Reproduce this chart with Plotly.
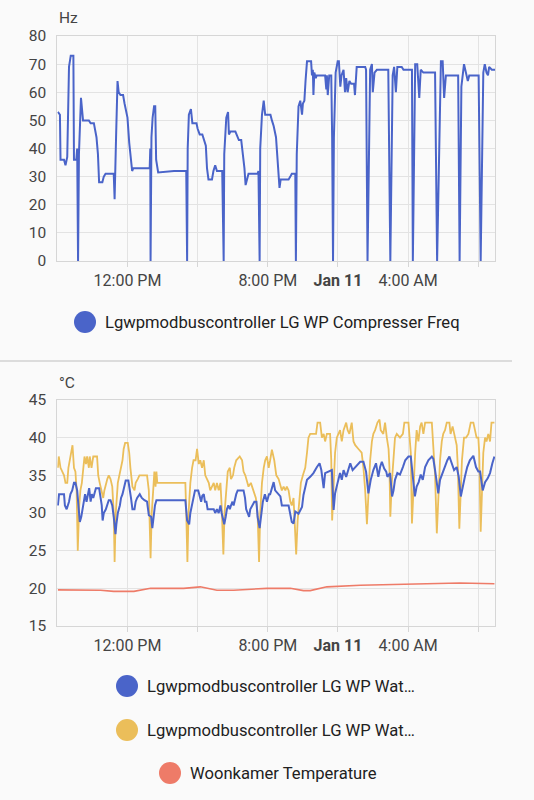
import plotly.graph_objects as go
import pandas as pd

start = pd.Timestamp("2025-01-10 08:00")

# minutes since 08:00 Jan 10 and readings
freq_min = [2, 9, 11, 23, 28, 34, 40, 46, 55, 57, 65, 68, 71, 74, 81, 88, 108, 114, 125, 128,
            134, 139, 143, 154, 159, 165, 193, 196, 199, 201, 206, 210, 216, 225, 230, 234, 240, 246, 254, 256,
            260, 316, 318, 319, 322, 326, 331, 335, 338, 341, 345, 399, 441, 444, 446, 450, 457, 462, 476, 480,
            487, 496, 503, 508, 512, 517, 529, 534, 540, 546, 564, 569, 571, 578, 584, 587, 592, 609, 613, 621,
            629, 633, 640, 644, 648, 654, 685, 688, 692, 694, 700, 706, 711, 729, 734, 740, 748, 754, 760, 764,
            791, 797, 802, 814, 816, 819, 825, 831, 837, 840, 845, 849, 854, 868, 871, 874, 876, 879, 884, 887,
            916, 920, 922, 925, 930, 937, 940, 943, 946, 952, 959, 963, 968, 972, 979, 984, 988, 993, 999, 1005,
            1015, 1018, 1024, 1053, 1056, 1061, 1070, 1076, 1079, 1085, 1093, 1132, 1139, 1147, 1152, 1158, 1163, 1178, 1184, 1213,
            1216, 1224, 1231, 1238, 1243, 1252, 1292, 1299, 1312, 1318, 1323, 1329, 1371, 1376, 1382, 1391, 1398, 1404, 1409, 1441,
            1448, 1457, 1462, 1468, 1473, 1477, 1486, 1497]
freq_hz = [53, 52, 36, 36, 34, 37, 69, 73, 73, 36, 36, 40, 0, 38, 58, 50, 50, 49, 49, 47,
           44, 38, 28, 28, 30, 31, 31, 22, 40, 44, 64, 60, 59, 59, 56, 54, 51, 42, 33, 32,
           33, 33, 40, 0, 44, 51, 55, 55, 36, 33, 31.5, 32, 32, 0, 40, 52, 54, 49, 49, 47,
           45, 45, 43, 41, 33, 29, 29, 32, 34, 32, 32, 0, 38, 51, 53, 45, 46, 46, 45, 43,
           43, 40, 33, 27, 29, 31, 31, 32, 0, 40, 52, 57, 52, 52, 50, 48, 44, 35, 26, 29,
           29, 30, 31, 31, 0, 38, 55, 57, 52, 56, 57, 64, 71, 71, 66, 68, 59, 67, 65, 66,
           66, 61, 66, 59, 66, 66, 44, 0, 44, 67, 71, 71, 62, 66, 68, 60, 65, 60, 64, 63,
           63, 59, 69, 69, 68, 0, 68, 70, 60, 67, 68, 68, 0, 66, 69, 60, 69, 69, 68, 68,
           0, 70, 70, 58, 68, 67, 67, 0, 71, 71, 58, 66, 66, 0, 62, 70, 66, 64, 66, 66,
           0, 67, 70, 67, 66, 69, 68, 68]

flow_min = [2, 5, 11, 17, 23, 28, 34, 38, 43, 49, 52, 57, 62, 66, 70, 75, 79, 84, 89, 93,
            98, 102, 108, 111, 117, 123, 136, 140, 145, 150, 157, 161, 166, 171, 176, 182, 188, 193, 196, 200,
            207, 216, 223, 227, 232, 241, 246, 250, 257, 264, 268, 275, 281, 307, 313, 319, 323, 328, 332, 336,
            339, 342, 347, 438, 441, 445, 449, 455, 461, 466, 473, 478, 484, 489, 495, 501, 506, 512, 518, 523,
            535, 540, 546, 552, 558, 562, 568, 572, 578, 583, 590, 594, 601, 605, 612, 624, 632, 637, 643, 649,
            654, 662, 671, 679, 685, 690, 694, 700, 706, 711, 717, 723, 728, 734, 742, 749, 757, 763, 768, 774,
            780, 785, 791, 797, 802, 808, 813, 817, 822, 829, 833, 840, 848, 854, 859, 865, 885, 890, 899, 905,
            911, 916, 922, 933, 937, 940, 945, 950, 956, 962, 967, 973, 979, 988, 993, 999, 1007, 1013, 1019, 1030,
            1041, 1047, 1053, 1059, 1064, 1070, 1076, 1081, 1087, 1095, 1102, 1106, 1115, 1121, 1127, 1133, 1136, 1139, 1144, 1150,
            1155, 1161, 1172, 1182, 1187, 1201, 1204, 1209, 1213, 1218, 1224, 1229, 1235, 1241, 1246, 1252, 1258, 1281, 1286, 1292,
            1298, 1303, 1309, 1315, 1320, 1326, 1332, 1341, 1345, 1352, 1360, 1366, 1370, 1375, 1380, 1384, 1391, 1398, 1406, 1414,
            1423, 1429, 1434, 1440, 1443, 1448, 1452, 1457, 1463, 1468, 1474, 1480, 1485, 1495]
flow_c = [36, 37.5, 36, 35.5, 35, 34, 34, 36, 37, 38.5, 39, 36, 35.5, 33, 25, 31, 33, 34, 36, 37.5,
          36.5, 37.5, 36, 37.5, 36, 37.5, 37.5, 35, 34, 33, 32, 33, 34, 34.5, 35, 34.5, 33.5, 30, 23.5, 30,
          34, 35.5, 37, 38.5, 39.3, 39.3, 38, 36, 33.5, 33, 34, 34.5, 35, 35, 33, 24, 30, 33, 35.5, 33.5,
          35.5, 34, 34, 34, 30, 23.5, 30, 34, 36, 37, 37, 38.5, 36.5, 37, 36, 37, 35, 34.5, 34, 33,
          34, 33, 34, 33, 34, 31, 24.5, 30, 33, 35.5, 36, 34.5, 35, 36, 37, 37.5, 37, 35.5, 35, 34,
          33.5, 34, 33, 32, 30, 23.5, 30, 34, 36, 37, 37.5, 36, 37, 38.4, 37, 35, 34.5, 33.5, 33, 33.5,
          33, 33.5, 33, 31.5, 31, 32, 27, 24.5, 29, 32, 34, 35, 36, 38, 40, 40.5, 40.5, 42, 42, 40,
          40.5, 39.5, 40.5, 40.5, 37, 29, 34, 38, 40, 40.5, 41, 39.5, 41, 42, 41, 40.5, 42, 39.5, 39, 38.5,
          38, 36, 33, 28.5, 33, 37, 39.5, 40.5, 41, 42, 42.4, 41, 40.5, 42, 40, 38.5, 36, 29.5, 34, 38,
          40, 40.5, 40, 40.5, 42, 42, 40, 38, 28.6, 34, 38, 41, 39.5, 41.5, 42, 40.5, 42, 42, 39, 35,
          27.3, 33, 37, 39.5, 40.5, 41, 42, 42, 40.5, 41.5, 40, 39, 36, 27.9, 33, 37, 40, 40, 40.5, 42,
          42, 41, 40, 40, 38, 27.5, 34, 38, 40, 39.5, 40.5, 39.5, 42, 42]

ret_min = [2, 6, 23, 26, 32, 36, 40, 45, 51, 57, 62, 68, 73, 77, 82, 86, 91, 95, 100, 104,
           109, 114, 118, 123, 127, 132, 143, 148, 152, 155, 159, 166, 171, 176, 182, 188, 193, 199, 202, 207,
           214, 218, 223, 227, 234, 243, 248, 252, 257, 264, 268, 273, 282, 289, 298, 307, 313, 321, 325, 330,
           334, 339, 438, 444, 451, 455, 461, 466, 471, 482, 487, 492, 496, 501, 505, 510, 514, 535, 540, 546,
           552, 558, 562, 567, 571, 576, 580, 585, 590, 594, 599, 603, 608, 612, 617, 637, 642, 646, 651, 656,
           660, 667, 674, 681, 685, 692, 697, 703, 710, 717, 724, 728, 740, 745, 763, 768, 791, 797, 802, 808,
           814, 825, 837, 842, 854, 865, 876, 888, 897, 903, 907, 911, 916, 928, 939, 945, 950, 958, 967, 973,
           979, 988, 996, 1002, 1010, 1019, 1036, 1047, 1056, 1064, 1072, 1081, 1090, 1098, 1104, 1110, 1118, 1125, 1129, 1138,
           1145, 1150, 1155, 1163, 1172, 1182, 1190, 1201, 1209, 1216, 1223, 1229, 1236, 1243, 1250, 1258, 1269, 1281, 1286, 1292,
           1298, 1303, 1309, 1317, 1326, 1334, 1341, 1349, 1357, 1366, 1373, 1380, 1386, 1394, 1402, 1411, 1423, 1432, 1440, 1446,
           1455, 1463, 1472, 1480, 1488, 1495]
ret_c = [31, 32.5, 32.5, 31, 30.5, 31, 31.5, 32.5, 33, 34, 34, 33, 30, 28.8, 29.5, 30.5, 31.5, 32.5, 31.5, 32.5,
         33.3, 31.5, 32.5, 32, 32.5, 33.3, 33.3, 32, 31, 29, 30, 30.5, 31, 31.7, 31.7, 31, 29.5, 27.2, 28.5, 30,
         31, 32, 32.5, 33.3, 34.3, 34.3, 33.3, 32, 30.5, 30.5, 31.5, 32, 32.5, 32, 31.7, 31.5, 29.7, 29.5, 28, 30,
         31, 31.7, 31.7, 29, 28.5, 30, 31, 32, 33, 33, 32, 31.5, 32.3, 32.5, 31.5, 31.5, 30.5, 30.5, 30, 30.5,
         30, 31, 30, 29, 28.5, 29.5, 30.5, 31, 30.5, 31, 31.5, 31, 32, 32.5, 33, 33, 32, 30.5, 30, 29.5,
         30.5, 31, 31.5, 31.5, 29.5, 28, 30, 31.5, 32.5, 31.5, 32.5, 32.5, 34.1, 33, 32.2, 31, 31, 29.9, 28.8, 28.6,
         30.2, 29.9, 30.8, 32.4, 34.4, 34.8, 35.3, 36.1, 36.6, 35.7, 34.4, 33.3, 35.3, 35.5, 35.7, 30.4, 32.6, 33.9, 35.3, 34.4,
         35.7, 34.8, 35.9, 36.6, 35.7, 36.1, 36.8, 36.8, 35.5, 32.6, 34.4, 35.7, 36.6, 34.8, 36.1, 36.8, 35.9, 35.5, 34.8, 35.3,
         32.2, 33, 34.4, 35.3, 35.1, 36.1, 37, 37.5, 37.5, 34.8, 32.2, 33.5, 34.1, 35.1, 34.4, 36.1, 37, 37.5, 37.2, 35.7,
         33.9, 32.6, 34.4, 35.3, 36.1, 37, 37.5, 36.6, 35.7, 36.1, 34.8, 32.2, 33.5, 34.8, 36.1, 37, 37.6, 36.1, 35.5, 35.5,
         33, 34.1, 34.6, 35.3, 36.6, 37.5]

room_min = [2, 60, 91, 148, 193, 262, 319, 432, 489, 546, 603, 717, 797, 842, 865, 922, 1036, 1150, 1264, 1377, 1495]
room_c = [19.8, 19.8, 19.75, 19.75, 19.6, 19.6, 20.0, 20.0, 20.2, 19.75, 19.75, 20.0, 20.0, 19.7, 19.7, 20.2, 20.4, 20.5, 20.6, 20.7, 20.6]

tick_times = ["2025-01-10 12:00", "2025-01-10 16:00", "2025-01-10 20:00",
              "2025-01-11 00:00", "2025-01-11 04:00", "2025-01-11 08:00"]
tick_text = ["12:00 PM", "", "8:00 PM", "<b>Jan 11</b>", "4:00 AM", ""]

BLUE = "#4a64c9"
YELLOW = "#ebbe5a"
RED = "#ee7b68"
GRID = "#e3e3e3"
W, H = 534, 800


def to_time(mins):
    return start + pd.to_timedelta(mins, unit="min")


fig = go.Figure()
fig.add_trace(go.Scatter(x=to_time(freq_min), y=freq_hz, mode="lines",
                         line=dict(color=BLUE, width=2), xaxis="x", yaxis="y"))
fig.add_trace(go.Scatter(x=to_time(flow_min), y=flow_c, mode="lines",
                         line=dict(color=YELLOW, width=1.8), xaxis="x2", yaxis="y2"))
fig.add_trace(go.Scatter(x=to_time(ret_min), y=ret_c, mode="lines",
                         line=dict(color=BLUE, width=2), xaxis="x2", yaxis="y2"))
fig.add_trace(go.Scatter(x=to_time(room_min), y=room_c, mode="lines",
                         line=dict(color=RED, width=1.6), xaxis="x2", yaxis="y2"))

xrange = [str(start), str(to_time(1497))]
xcommon = dict(range=xrange, tickvals=tick_times, ticktext=tick_text, showgrid=True,
               gridcolor=GRID, showline=True, linecolor="#d6d6d6", mirror=True,
               ticks="outside", ticklen=5, tickcolor="#d6d6d6", automargin=False,
               tickfont=dict(size=16, color="#444444"), domain=[57.3 / W, 495 / W],
               zeroline=False)
ycommon = dict(showgrid=True, gridcolor=GRID, showline=True, linecolor="#d6d6d6",
               mirror=True, tickfont=dict(size=15.5, color="#444444"), zeroline=False,
               ticks="", ticklabelstandoff=7, automargin=False)

fig.update_layout(
    width=W, height=H, margin=dict(l=0, r=0, t=0, b=0),
    paper_bgcolor="#fafafa", plot_bgcolor="#fafafa",
    font=dict(family="Roboto", color="#212121"), showlegend=False,
    xaxis=dict(anchor="y", **xcommon),
    yaxis=dict(anchor="x", range=[0, 80], dtick=10, domain=[1 - 261 / H, 1 - 36 / H], **ycommon),
    xaxis2=dict(anchor="y2", **xcommon),
    yaxis2=dict(anchor="x2", range=[15, 45], dtick=5, domain=[1 - 626 / H, 1 - 400 / H], **ycommon),
)

# unit labels
fig.add_annotation(x=57 / W, y=1 - 18 / H, xref="paper", yref="paper", text="Hz",
                   showarrow=False, xanchor="left", yanchor="middle", font=dict(size=15.5, color="#444444"))
fig.add_annotation(x=57 / W, y=1 - 383 / H, xref="paper", yref="paper", text="°C",
                   showarrow=False, xanchor="left", yanchor="middle", font=dict(size=15.5, color="#444444"))

# separator between cards
fig.add_shape(type="line", xref="paper", yref="paper", x0=0, x1=512 / W, y0=1 - 361 / H, y1=1 - 361 / H,
              line=dict(color="#dcdcdc", width=2))

# legends
legend_items = [
    (85, 322, BLUE, "Lgwpmodbuscontroller LG WP Compresser Freq"),
    (127, 686, BLUE, "Lgwpmodbuscontroller LG WP Wat…"),
    (127, 730, YELLOW, "Lgwpmodbuscontroller LG WP Wat…"),
    (170, 773, RED, "Woonkamer Temperature"),
]
r = 11
for cx, cy, col, label in legend_items:
    fig.add_shape(type="circle", xref="paper", yref="paper",
                  x0=(cx - r) / W, x1=(cx + r) / W, y0=1 - (cy + r) / H, y1=1 - (cy - r) / H,
                  fillcolor=col, line=dict(width=0))
    fig.add_annotation(x=(cx + 18) / W, y=1 - cy / H, xref="paper", yref="paper", text=label,
                       showarrow=False, xanchor="left", yanchor="middle",
                       font=dict(size=16.6, color="#212121"))

fig.write_html("out.html", config={"displayModeBar": False},
               post_script="document.documentElement.style.margin='0';"
                           "document.body.style.margin='0';document.body.style.overflow='hidden';")
